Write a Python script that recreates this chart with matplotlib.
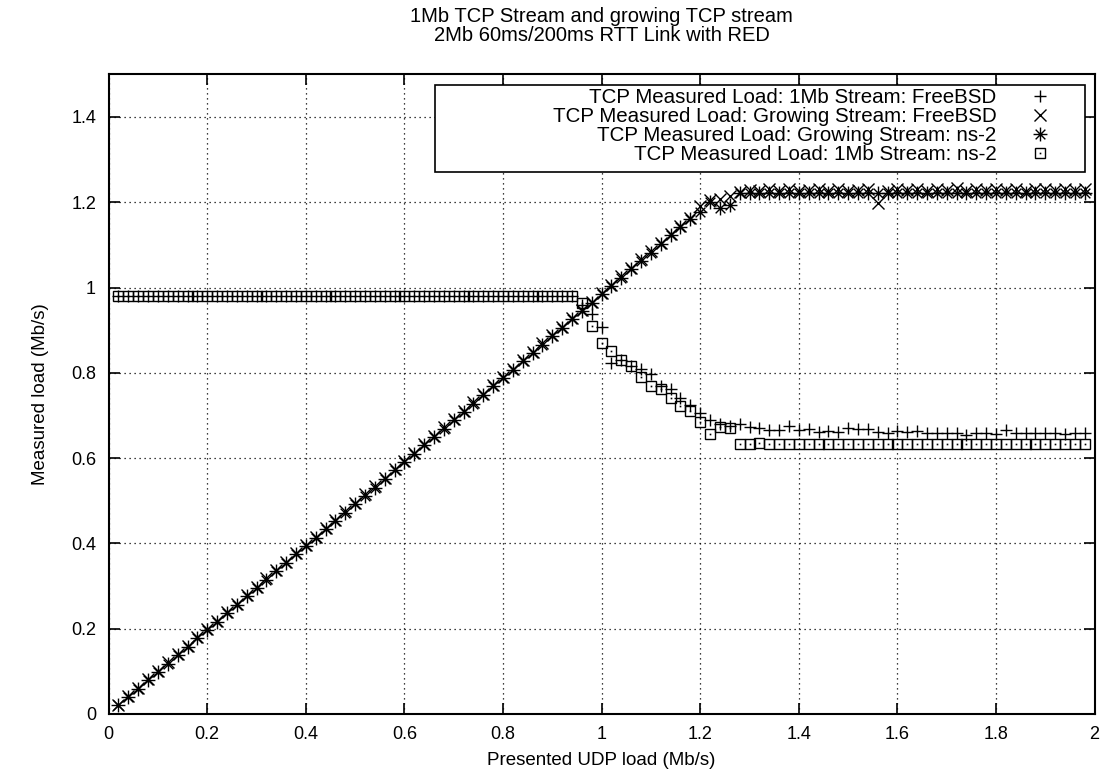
import numpy as np
import matplotlib.pyplot as plt
from matplotlib.path import Path
from matplotlib.patches import Rectangle
from matplotlib.legend_handler import HandlerTuple

plt.rcParams['font.family'] = ['Liberation Sans', 'DejaVu Sans']

# presented UDP load, 0.02 .. 1.98 Mb/s
udp_load = [round(0.02 * k, 2) for k in range(1, 100)]

# 1Mb stream, FreeBSD (+)
mb1_freebsd = [0.98] * 47 + [
    0.959, 0.937, 0.908,
    0.824, 0.830, 0.816, 0.808, 0.797, 0.769, 0.761, 0.740, 0.725, 0.706, 0.690, 0.679, 0.676,
    0.680, 0.674, 0.670, 0.666, 0.666, 0.675, 0.666, 0.668, 0.662, 0.664,
    0.662, 0.670, 0.668, 0.668, 0.662, 0.658, 0.664, 0.662, 0.664, 0.658,
    0.658, 0.660, 0.658, 0.654, 0.658, 0.658, 0.656, 0.666, 0.658, 0.660,
    0.660, 0.658, 0.658, 0.656, 0.660, 0.660]

# 1Mb stream, ns-2 (squares)
mb1_ns2 = [0.98] * 47 + [
    0.963, 0.910, 0.871, 0.852, 0.830, 0.815, 0.790, 0.770, 0.762, 0.742,
    0.723, 0.710, 0.684, 0.657, 0.674, 0.671,
    0.633, 0.633, 0.636, 0.633, 0.633, 0.633, 0.633, 0.633, 0.633, 0.633,
    0.633, 0.633, 0.633, 0.633, 0.633, 0.633, 0.633, 0.633, 0.633, 0.633,
    0.633, 0.633, 0.633, 0.633, 0.633, 0.633, 0.633, 0.633, 0.633, 0.633,
    0.633, 0.633, 0.633, 0.633, 0.633, 0.633]

# growing stream, ns-2 (asterisk)
grow_ns2 = [
    0.020, 0.039, 0.059, 0.079, 0.098, 0.118, 0.138, 0.157, 0.177, 0.197,
    0.216, 0.236, 0.256, 0.276, 0.295, 0.315, 0.335, 0.354, 0.374, 0.394,
    0.413, 0.433, 0.453, 0.472, 0.492, 0.512, 0.531, 0.551, 0.571, 0.590,
    0.610, 0.630, 0.649, 0.669, 0.689, 0.708, 0.728, 0.748, 0.768, 0.787,
    0.807, 0.827, 0.846, 0.866, 0.886, 0.905, 0.925, 0.945, 0.964, 0.984,
    1.004, 1.023, 1.043, 1.063, 1.082, 1.102, 1.122, 1.141, 1.161,
    1.178, 1.200, 1.186, 1.194] + [1.221] * 36

# growing stream, FreeBSD (x)
grow_freebsd = [
    0.022, 0.042, 0.062, 0.081, 0.101, 0.121, 0.141, 0.160, 0.180, 0.200,
    0.219, 0.239, 0.259, 0.279, 0.298, 0.318, 0.338, 0.357, 0.377, 0.397,
    0.416, 0.436, 0.456, 0.475, 0.495, 0.515, 0.534, 0.554, 0.574, 0.593,
    0.613, 0.633, 0.652, 0.672, 0.692, 0.711, 0.731, 0.751, 0.771, 0.790,
    0.810, 0.830, 0.849, 0.869, 0.889, 0.908, 0.928, 0.948, 0.967, 0.987,
    1.007, 1.026, 1.046, 1.066, 1.085, 1.105, 1.125, 1.144, 1.164,
    1.190, 1.205, 1.207, 1.215,
    1.224, 1.228, 1.226, 1.230, 1.227, 1.231, 1.226, 1.229, 1.232, 1.227,
    1.230, 1.226, 1.229, 1.231, 1.198, 1.227, 1.230, 1.228, 1.232, 1.226,
    1.231, 1.229, 1.233, 1.227, 1.230, 1.228, 1.232, 1.229, 1.231, 1.227,
    1.230, 1.232, 1.228, 1.231, 1.229, 1.230]

labels = ['TCP Measured Load: 1Mb Stream: FreeBSD',
          'TCP Measured Load: Growing Stream: FreeBSD',
          'TCP Measured Load: Growing Stream: ns-2',
          'TCP Measured Load: 1Mb Stream: ns-2']

# gnuplot-style star: plus and cross together
star = Path([(-1, 0), (1, 0), (0, -1), (0, 1), (-0.7, -0.7), (0.7, 0.7), (-0.7, 0.7), (0.7, -0.7)],
            [Path.MOVETO, Path.LINETO] * 4)

fig = plt.figure(figsize=(11.05, 7.82), dpi=100)
ax = fig.add_axes([0.0983, 0.087, 0.8923, 0.818])

h1, = ax.plot(udp_load, mb1_freebsd, ls='none', marker='+', ms=9, mew=1, color='black')
h2, = ax.plot(udp_load, grow_freebsd, ls='none', marker='x', ms=8, mew=1, color='black')
h3, = ax.plot(udp_load, grow_ns2, ls='none', marker=star, ms=10, mew=1, color='black', mfc='none')
h4, = ax.plot(udp_load, mb1_ns2, ls='none', marker='s', ms=7.5, mew=1, color='black', mfc='none')
h4d, = ax.plot(udp_load, mb1_ns2, ls='none', marker='s', ms=1.2, mew=0, color='black')

ax.set_xlim(0, 2)
ax.set_ylim(0, 1.5)
ax.set_xticks([0, 0.2, 0.4, 0.6, 0.8, 1, 1.2, 1.4, 1.6, 1.8, 2])
ax.set_xticklabels(['0', '0.2', '0.4', '0.6', '0.8', '1', '1.2', '1.4', '1.6', '1.8', '2'])
ax.set_yticks([0, 0.2, 0.4, 0.6, 0.8, 1, 1.2, 1.4])
ax.set_yticklabels(['0', '0.2', '0.4', '0.6', '0.8', '1', '1.2', '1.4'])
ax.tick_params(direction='in', top=True, right=True, length=8, width=1.2, labelsize=13, pad=9)
ax.grid(True, color='black', ls=(0, (1, 3)), lw=0.9)
for s in ax.spines.values():
    s.set_linewidth(1.5)

ax.set_xlabel('Presented UDP load (Mb/s)', fontsize=13.5, labelpad=6)
ax.set_ylabel('Measured load (Mb/s)', fontsize=13.5, labelpad=16)
ax.set_title('1Mb TCP Stream and growing TCP stream\n2Mb 60ms/200ms RTT Link with RED',
             fontsize=14.5, pad=24, linespacing=1.0)

# gnuplot sizes its key box wider than the text, so draw the box separately
key_box = Rectangle((0.331, 0.847), 0.659, 0.136, transform=ax.transAxes, facecolor='white',
                    edgecolor='black', lw=1.2, zorder=4.5)
ax.add_patch(key_box)

leg = ax.legend([h1, h2, h3, (h4, h4d)], labels, loc='upper right', bbox_to_anchor=(0.990, 0.981),
                markerfirst=False, fontsize=14.8, frameon=False, borderaxespad=0,
                labelspacing=0.0, handlelength=4.2, handletextpad=0.0, borderpad=0.1,
                handler_map={tuple: HandlerTuple(ndivide=1)})
for col in leg._legend_handle_box.get_children():
    col.align = 'right'

fig.savefig('out.png', dpi=100)
